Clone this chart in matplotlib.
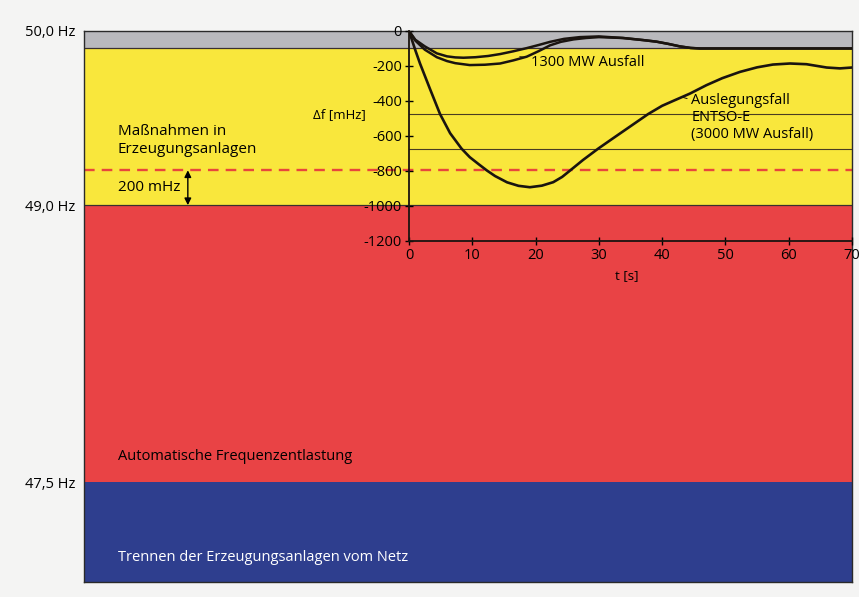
import numpy as np
import matplotlib
matplotlib.use("Agg")
import matplotlib.pyplot as plt

plt.rcParams['font.family'] = ['Open Sans', 'DejaVu Sans']
plt.rcParams['axes.unicode_minus'] = False

# frequency deviation curves, t [s] / delta f [mHz]
t_design = [0, 1, 1.74, 3.3, 4.9, 6.5, 8.3, 9.6, 11, 12.3, 13.6, 15.5, 17.3, 19.1, 21, 22.8, 24.2, 25.4, 27.5,
            29.9, 32, 35, 37.8, 40, 42, 44.4, 47, 49.5, 52.3, 55, 57.5, 60.2, 62.8, 66, 68.1, 70]
v_design = [0, -110, -186, -330, -475, -585, -673, -722, -762, -798, -830, -866, -886, -894, -885, -865, -835, -800, -738,
            -673, -620, -545, -475, -428, -396, -358, -310, -270, -234, -208, -192, -186, -190, -209, -214, -209]

t_1300a = [0, 1, 2.5, 4.4, 6, 7.3, 8.6, 10.5, 12.5, 14.4, 16.5, 18.6, 20.5, 22.3, 24.5, 27, 30,
           33.8, 37, 39.1, 41, 42.8, 44.5, 46, 50, 60, 70]
v_1300a = [0, -50, -88, -128, -145, -151, -153, -150, -143, -132, -116, -98, -80, -62, -45, -35, -31,
           -40, -52, -61, -74, -88, -97, -100, -100, -100, -100]

t_1300b = [0, 1, 2.5, 4.4, 6, 7.3, 9.6, 12, 14.4, 16.5, 18.6, 20.5, 22.3, 24, 26, 28, 30,
           33.8, 37, 39.1, 41, 42.8, 44.5, 46, 50, 60, 70]
v_1300b = [0, -55, -107, -150, -172, -184, -195, -193, -186, -168, -147, -115, -82, -62, -48, -40, -35,
           -40, -52, -61, -74, -88, -97, -100, -100, -100, -100]

# bands (schematic scale, mHz below 50 Hz)
band_top = [0, -100, -1000, -2590]
band_bot = [-100, -1000, -2590, -3164]
band_col = ['#b9b9bd', '#f9e73c', '#e94345', '#2e3e8e']
hz_pos = [0, -1000, -2590]
hz_labels = ['50,0 Hz', '49,0 Hz', '47,5 Hz']

inset_lines = [-475, -675]
dash_level = -800

fig = plt.figure(figsize=(8.59, 5.97), dpi=100)
fig.patch.set_facecolor('#f4f4f3')

ax = fig.add_axes([84/859, 15/597, 768/859, 551/597])
ax.set_xlim(-51.3, 70)
ax.set_ylim(-3164, 0)
for top, bot, c in zip(band_top, band_bot, band_col):
    ax.axhspan(bot, top, color=c, lw=0)
ax.axhline(-100, color='#3a3030', lw=0.9)
ax.axhline(-1000, color='#3a3030', lw=0.9)
ax.axhline(dash_level, color='#e8473c', lw=1.7, linestyle=(0, (4.5, 3)))
ax.set_xticks([])
ax.set_yticks(hz_pos)
ax.set_yticklabels(hz_labels, fontsize=10.5)
ax.tick_params(axis='y', length=0, pad=6)
for s in ax.spines.values():
    s.set_color('#2a2a2a')
    s.set_linewidth(1)

ax.text(-46, -629, 'Maßnahmen in\nErzeugungsanlagen', fontsize=11, va='center', ha='left')
ax.text(-46, -901, '200 mHz', fontsize=11, va='center', ha='left')
ax.annotate('', xy=(-34.9, -1000), xytext=(-34.9, -800),
            arrowprops=dict(arrowstyle='<|-|>', color='black', lw=1, mutation_scale=10,
                            shrinkA=0, shrinkB=0))
ax.text(-46, -2446, 'Automatische Frequenzentlastung', fontsize=10.5, va='center', ha='left')
ax.text(-46, -3026, 'Trennen der Erzeugungsanlagen vom Netz', fontsize=10.5, va='center',
        ha='left', color='white')

# inset chart
ax_in = fig.add_axes([409/859, 1 - 240.7/597, 443/859, 209.7/597])
ax_in.patch.set_alpha(0)
ax_in.set_xlim(0, 70)
ax_in.set_ylim(-1200, 0)
for y in inset_lines:
    ax_in.plot([0, 70], [y, y], color='#4a3c22', lw=0.8)
ax_in.plot(t_1300a, v_1300a, color='#1a1410', lw=1.8, solid_joinstyle='round')
ax_in.plot(t_1300b, v_1300b, color='#1a1410', lw=1.8, solid_joinstyle='round')
ax_in.plot(t_design, v_design, color='#1a1410', lw=1.9, solid_joinstyle='round')

ax_in.spines['top'].set_visible(False)
ax_in.spines['right'].set_visible(False)
ax_in.spines['left'].set_linewidth(1.3)
ax_in.spines['bottom'].set_linewidth(1.3)
ax_in.spines['left'].set_color('#1a1410')
ax_in.spines['bottom'].set_color('#1a1410')
ax_in.set_yticks([0, -200, -400, -600, -800, -1000, -1200])
ax_in.set_xticks([0, 10, 20, 30, 40, 50, 60, 70])
ax_in.tick_params(direction='inout', length=6, width=1, labelsize=10.5, pad=2)
ax_in.text(-0.097, 0.6, 'Δf [mHz]', transform=ax_in.transAxes, ha='right', va='center', fontsize=9.5)
ax_in.text(0.491, -0.168, 't [s]', transform=ax_in.transAxes, ha='center', va='center', fontsize=9.5)

ax_in.annotate('1300 MW Ausfall', xy=(17.5, -147), xytext=(19.2, -181), fontsize=10.5,
               ha='left', va='center',
               arrowprops=dict(arrowstyle='-', lw=0.7, color='#1a1410', shrinkA=1, shrinkB=0))
ax_in.annotate('Auslegungsfall\nENTSO-E\n(3000 MW Ausfall)', xy=(43.3, -380), xytext=(44.6, -357),
               fontsize=10.5, ha='left', va='top', linespacing=1.15,
               arrowprops=dict(arrowstyle='-', lw=0.7, color='#1a1410', shrinkA=1, shrinkB=0))

fig.savefig('out.png', dpi=100, facecolor=fig.get_facecolor())
